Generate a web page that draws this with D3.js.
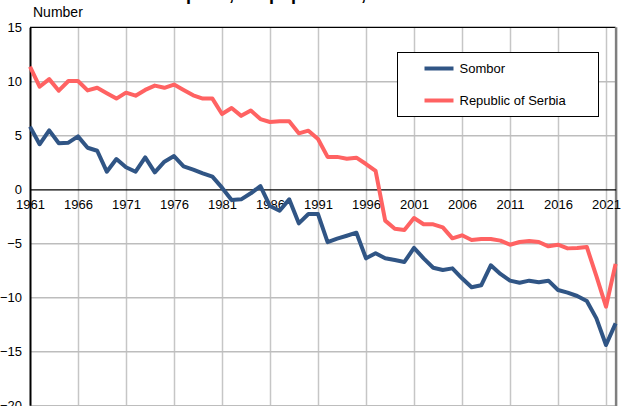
<!DOCTYPE html>
<html>
<head>
<meta charset="utf-8">
<script src="https://d3js.org/d3.v7.min.js"></script>
<style>
  body { margin: 0; background: #fff; }
  svg { display: block; font-family: "Liberation Sans", Arial, sans-serif; }
</style>
</head>
<body>
<script>

var years = d3.range(1961, 2023);

var sombor = [5.8, 4.17, 5.46, 4.26, 4.32, 4.9, 3.85, 3.57, 1.63, 2.8,
  2.04, 1.63, 2.96, 1.57, 2.56, 3.08, 2.13, 1.82, 1.48, 1.17,
  0.15, -0.99, -0.93, -0.37, 0.3, -1.55, -1.98, -0.93, -3.15, -2.29,
  -2.29, -4.9, -4.57, -4.3, -4.02, -6.39, -5.93, -6.39, -6.55, -6.73,
  -5.43, -6.39, -7.26, -7.47, -7.32, -8.24, -9.07, -8.89, -7.04, -7.84,
  -8.46, -8.65, -8.46, -8.61, -8.46, -9.32, -9.57, -9.88, -10.34, -11.95,
  -14.42, -12.41];

var serbia = [11.35, 9.5, 10.2, 9.13, 10.03, 10.03, 9.16, 9.4, 8.9, 8.4,
  8.95, 8.67, 9.2, 9.6, 9.4, 9.7, 9.2, 8.7, 8.4, 8.4,
  6.97, 7.53, 6.8, 7.3, 6.5, 6.23, 6.3, 6.3, 5.18, 5.43,
  4.66, 3.0, 3.0, 2.83, 2.93, 2.34, 1.7, -2.9, -3.65, -3.77,
  -2.66, -3.24, -3.24, -3.52, -4.54, -4.26, -4.69, -4.6, -4.6, -4.75,
  -5.13, -4.88, -4.79, -4.88, -5.28, -5.13, -5.47, -5.44, -5.34, -8.05,
  -10.87, -6.9];

var seriesNames = ["Sombor", "Republic of Serbia"];
var seriesColors = ["#305585", "#ff6262"];
var xTicks = d3.range(1961, 2022, 5);
var yTicks = [-20, -15, -10, -5, 0, 5, 10, 15];

var w = 631, h = 406;
var pLeft = 30, pRight = 615.6, pTop = 27.3, pBottom = 405.3;

var svg = d3.select("body").append("svg")
  .attr("width", w)
  .attr("height", h);

var x = d3.scaleLinear().domain([1961, 2022]).range([pLeft, pRight]);
var y = d3.scaleLinear().domain([-20, 15]).range([pBottom, pTop]);

// title, cut off at the top edge: only descenders show
var titleText = "Natural increase per 1,000 population, 1961-2022";
var title = svg.append("text")
  .attr("x", 0)
  .attr("y", 0)
  .attr("font-size", 18)
  .attr("font-weight", "bold")
  .text(titleText);
var pPos = title.node().getStartPositionOfChar(titleText.indexOf("per")).x;
title.attr("x", 186 - pPos);

svg.append("text")
  .attr("x", 33)
  .attr("y", 17)
  .attr("font-size", 14)
  .text("Number");

// vertical grid
svg.append("g")
  .attr("transform", "translate(0," + pBottom + ")")
  .call(d3.axisBottom(x).tickValues(xTicks.slice(1)).tickSize(0).tickFormat(""))
  .call(function(g) {
    g.select(".domain").remove();
    g.selectAll("line").attr("y2", -(pBottom - pTop)).attr("stroke", "#c6c6c6").attr("stroke-width", 1.5);
  });

// horizontal grid
svg.append("g")
  .attr("transform", "translate(" + pLeft + ",0)")
  .call(d3.axisRight(y).tickValues(yTicks.filter(function(d){ return d != 0 && d != 15; })).tickSize(pRight - pLeft).tickFormat(""))
  .call(function(g) {
    g.select(".domain").remove();
    g.selectAll("line").attr("stroke", "#bdbdbd").attr("stroke-width", 1.5);
  });

// plot border
svg.append("line")
  .attr("x1", pLeft).attr("x2", pRight)
  .attr("y1", pTop).attr("y2", pTop)
  .attr("stroke", "#000").attr("stroke-width", 1.2);
svg.append("line")
  .attr("x1", pRight + 0.5).attr("x2", pRight + 0.5)
  .attr("y1", pTop).attr("y2", h)
  .attr("stroke", "#7f7f7f").attr("stroke-width", 2.5);

// y axis
var gY = svg.append("g")
  .attr("transform", "translate(" + pLeft + ",0)")
  .call(d3.axisLeft(y).tickValues(yTicks).tickSize(0).tickPadding(8));
gY.select(".domain").attr("stroke", "#000").attr("stroke-width", 2);
gY.selectAll("text").attr("font-size", 13).attr("fill", "#000").attr("font-family", null);

// zero line with year labels
var gX = svg.append("g")
  .attr("transform", "translate(0," + y(0) + ")")
  .call(d3.axisBottom(x).tickValues(xTicks).tickSize(0).tickPadding(10).tickFormat(d3.format("d")));
gX.select(".domain").attr("stroke", "#000").attr("stroke-width", 1.2);
gX.selectAll("text").attr("font-size", 13).attr("fill", "#000").attr("font-family", null);

// series
var line = d3.line()
  .x(function(d, i){ return x(years[i]); })
  .y(function(d){ return y(d); });

[sombor, serbia].forEach(function(vals, i) {
  svg.append("path")
    .datum(vals)
    .attr("d", line)
    .attr("fill", "none")
    .attr("stroke", seriesColors[i])
    .attr("stroke-width", 4)
    .attr("stroke-linejoin", "round");
});

// legend
var lg = svg.append("g").attr("transform", "translate(397.5,52.5)");
lg.append("rect")
  .attr("width", 201).attr("height", 64)
  .attr("fill", "#fff").attr("stroke", "#000").attr("stroke-width", 1);
seriesNames.forEach(function(name, i) {
  var yy = 16 + i * 32;
  lg.append("line")
    .attr("x1", 27).attr("x2", 56)
    .attr("y1", yy).attr("y2", yy)
    .attr("stroke", seriesColors[i]).attr("stroke-width", 4);
  lg.append("text")
    .attr("x", 62).attr("y", yy)
    .attr("dy", "0.35em")
    .attr("font-size", 13)
    .text(name);
});
</script>
</body>
</html>
